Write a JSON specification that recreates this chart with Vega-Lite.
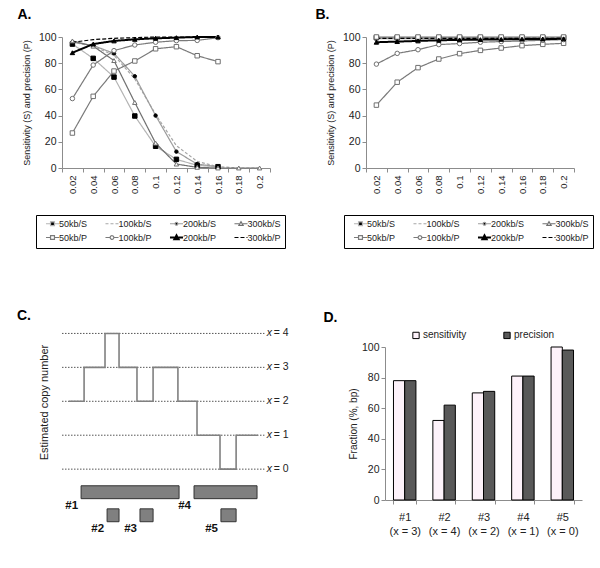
{
  "$schema": "https://vega.github.io/schema/vega-lite/v6.json",
  "background": "white",
  "padding": {"left": 17, "top": 8, "right": 0, "bottom": 0},
  "datasets": {
    "dA": [
      {"x": 0.02, "50kb/S": 94.6, "100kb/S": 96, "200kb/S": 96, "300kb/S": 97, "50kb/P": 26.7, "100kb/P": 53, "200kb/P": 88, "300kb/P": 96},
      {"x": 0.04, "50kb/S": 83.7, "100kb/S": 93, "200kb/S": 93.5, "300kb/S": 93, "50kb/P": 54.7, "100kb/P": 78.6, "200kb/P": 94.6, "300kb/P": 98},
      {"x": 0.06, "50kb/S": 69.4, "100kb/S": 86, "200kb/S": 87.5, "300kb/S": 82, "50kb/P": 74, "100kb/P": 89.6, "200kb/P": 97, "300kb/P": 99},
      {"x": 0.08, "50kb/S": 39.7, "100kb/S": 68, "200kb/S": 70, "300kb/S": 50, "50kb/P": 81.7, "100kb/P": 93.9, "200kb/P": 98.2, "300kb/P": 99.5},
      {"x": 0.1, "50kb/S": 16.6, "100kb/S": 41, "200kb/S": 40, "300kb/S": 19, "50kb/P": 91, "100kb/P": 96, "200kb/P": 99, "300kb/P": 100},
      {"x": 0.12, "50kb/S": 6.6, "100kb/S": 17, "200kb/S": 12.5, "300kb/S": 3, "50kb/P": 92.6, "100kb/P": 97.2, "200kb/P": 99.5, "300kb/P": 100},
      {"x": 0.14, "50kb/S": 2, "100kb/S": 5, "200kb/S": 3, "300kb/S": 0.5, "50kb/P": 85.7, "100kb/P": 97.4, "200kb/P": 100, "300kb/P": 100},
      {"x": 0.16, "50kb/S": 1, "100kb/S": 1, "200kb/S": 1, "300kb/S": 0, "50kb/P": 81.2, "100kb/P": 99.5, "200kb/P": 100, "300kb/P": 100},
      {"x": 0.18, "100kb/S": 0, "300kb/S": 0},
      {"x": 0.2, "100kb/S": 0, "300kb/S": 0}
    ],
    "dB": [
      {"x": 0.02, "50kb/S": 99.5, "100kb/S": 99.2, "200kb/S": 98.8, "300kb/S": 100, "50kb/P": 48, "100kb/P": 79.3, "200kb/P": 96, "300kb/P": 99},
      {"x": 0.04, "50kb/S": 99.5, "100kb/S": 99.2, "200kb/S": 98.8, "300kb/S": 100, "50kb/P": 65.5, "100kb/P": 87.5, "200kb/P": 96.5, "300kb/P": 99},
      {"x": 0.06, "50kb/S": 99.5, "100kb/S": 99.2, "200kb/S": 98.8, "300kb/S": 100, "50kb/P": 76.6, "100kb/P": 90.3, "200kb/P": 97, "300kb/P": 99},
      {"x": 0.08, "50kb/S": 99.5, "100kb/S": 99.2, "200kb/S": 98.8, "300kb/S": 100, "50kb/P": 83.2, "100kb/P": 94.2, "200kb/P": 97.5, "300kb/P": 99},
      {"x": 0.1, "50kb/S": 99.5, "100kb/S": 99.2, "200kb/S": 98.8, "300kb/S": 100, "50kb/P": 87.3, "100kb/P": 95, "200kb/P": 97.8, "300kb/P": 99},
      {"x": 0.12, "50kb/S": 99.5, "100kb/S": 99.2, "200kb/S": 98.8, "300kb/S": 100, "50kb/P": 89.8, "100kb/P": 96, "200kb/P": 98, "300kb/P": 99},
      {"x": 0.14, "50kb/S": 99.5, "100kb/S": 99.2, "200kb/S": 98.8, "300kb/S": 100, "50kb/P": 91.6, "100kb/P": 96.5, "200kb/P": 98.2, "300kb/P": 99},
      {"x": 0.16, "50kb/S": 99.5, "100kb/S": 99.2, "200kb/S": 98.8, "300kb/S": 100, "50kb/P": 93.4, "100kb/P": 97, "200kb/P": 98.4, "300kb/P": 99},
      {"x": 0.18, "50kb/S": 99.5, "100kb/S": 99.2, "200kb/S": 98.8, "300kb/S": 100, "50kb/P": 94.4, "100kb/P": 97.5, "200kb/P": 98.5, "300kb/P": 99},
      {"x": 0.2, "50kb/S": 99.5, "100kb/S": 99.2, "200kb/S": 98.8, "300kb/S": 100, "50kb/P": 95.2, "100kb/P": 98, "200kb/P": 98.6, "300kb/P": 99}
    ],
    "levels": [
      {"lv": 4, "lab": "= 4"},
      {"lv": 3, "lab": "= 3"},
      {"lv": 2, "lab": "= 2"},
      {"lv": 1, "lab": "= 1"},
      {"lv": 0, "lab": "= 0"}
    ],
    "steps": [
      {"pos": 3, "cn": 2},
      {"pos": 9.6, "cn": 3},
      {"pos": 18.7, "cn": 4},
      {"pos": 24.8, "cn": 3},
      {"pos": 32.6, "cn": 2},
      {"pos": 39.6, "cn": 3},
      {"pos": 50.4, "cn": 2},
      {"pos": 58.7, "cn": 1},
      {"pos": 68.7, "cn": 0},
      {"pos": 75.7, "cn": 1},
      {"pos": 85.2, "cn": 1}
    ],
    "segs": [
      {"id": "#1", "a": 8.3, "b": 50.9, "lo": -0.87, "hi": -0.49},
      {"id": "#4", "a": 57.4, "b": 84.8, "lo": -0.87, "hi": -0.49},
      {"id": "#2", "a": 19.6, "b": 24.8, "lo": -1.55, "hi": -1.17},
      {"id": "#3", "a": 33.9, "b": 39.6, "lo": -1.55, "hi": -1.17},
      {"id": "#5", "a": 69.1, "b": 75.7, "lo": -1.55, "hi": -1.17}
    ],
    "dD": [
      {"g": "#1|(x = 3)", "m": "sensitivity", "v": 78},
      {"g": "#1|(x = 3)", "m": "precision", "v": 78},
      {"g": "#2|(x = 4)", "m": "sensitivity", "v": 52},
      {"g": "#2|(x = 4)", "m": "precision", "v": 62},
      {"g": "#3|(x = 2)", "m": "sensitivity", "v": 70},
      {"g": "#3|(x = 2)", "m": "precision", "v": 71},
      {"g": "#4|(x = 1)", "m": "sensitivity", "v": 81},
      {"g": "#4|(x = 1)", "m": "precision", "v": 81},
      {"g": "#5|(x = 0)", "m": "sensitivity", "v": 100},
      {"g": "#5|(x = 0)", "m": "precision", "v": 98}
    ]
  },
  "spacing": 60,
  "resolve": {
    "scale": {"color": "independent", "fill": "independent", "stroke": "independent", "shape": "independent", "strokeDash": "independent", "size": "independent", "x": "independent", "y": "independent"},
    "legend": {"color": "independent", "fill": "independent", "stroke": "independent", "shape": "independent", "strokeDash": "independent", "size": "independent"}
  },
  "vconcat": [
    {
      "spacing": 29,
      "resolve": {
        "scale": {"color": "independent", "fill": "independent", "stroke": "independent", "shape": "independent", "strokeDash": "independent", "size": "independent", "x": "independent", "y": "independent"},
        "legend": {"color": "independent", "fill": "independent", "stroke": "independent", "shape": "independent", "strokeDash": "independent", "size": "independent"}
      },
      "hconcat": [
        {
          "title": {"text": "A.", "dx": -5},
          "width": 208,
          "height": 131,
          "data": {"name": "dA"},
          "transform": [
            {"fold": ["50kb/S", "100kb/S", "200kb/S", "300kb/S", "50kb/P", "100kb/P", "200kb/P", "300kb/P"], "as": ["series", "v"]},
            {"filter": "isValid(datum.v)"}
          ],
          "encoding": {
            "x": {"field": "x", "type": "ordinal", "scale": {"type": "band", "paddingInner": 0, "paddingOuter": 0},
                  "axis": {"title": null, "labelAngle": -90, "tickBand": "extent", "tickSize": 4, "labelPadding": 3, "labelFontSize": 9.5}},
            "y": {"field": "v", "type": "quantitative", "scale": {"domain": [0, 100], "nice": false},
                  "axis": {"title": "Sensitivity (S)  and precision (P)", "values": [0, 20, 40, 60, 80, 100], "tickSize": 4, "labelPadding": 2, "titlePadding": 7}}
          },
          "resolve": {"legend": {"shape": "independent", "fill": "independent", "stroke": "independent"}},
          "layer": [
            {
              "mark": {"type": "line"},
              "encoding": {
                "color": {"field": "series", "type": "nominal",
                  "scale": {"domain": ["50kb/S", "100kb/S", "200kb/S", "300kb/S", "50kb/P", "100kb/P", "200kb/P", "300kb/P"],
                            "range": ["#b4b4b4", "#a6a6a6", "#9c9c9c", "#707070", "#7a7a7a", "#7a7a7a", "#000000", "#000000"]},
                  "legend": {"title": null, "orient": "none", "legendX": -26, "legendY": 178, "direction": "horizontal", "columns": 4,
                    "symbolType": "stroke", "symbolSize": 170, "labelFontSize": 9, "labelColor": "#222", "strokeColor": "black",
                    "padding": 4, "symbolOffset": 8, "rowPadding": 2, "columnPadding": 11.5, "labelOffset": 2, "fillColor": "white",
                    "encode": {"symbols": {"update": {
                      "shape": {"signal": "datum.value==='50kb/S'||datum.value==='50kb/P' ? 'M-1,0H-0.3M0.3,0H1M-0.3,-0.3H0.3V0.3H-0.3Z' : datum.value==='200kb/S' ? 'M-1,0H-0.22M0.22,0H1M-0.22,0A0.22,0.22 0 1,0 0.22,0A0.22,0.22 0 1,0 -0.22,0Z' : datum.value==='100kb/P' ? 'M-1,0H-0.28M0.28,0H1M-0.28,0A0.28,0.28 0 1,0 0.28,0A0.28,0.28 0 1,0 -0.28,0Z' : (datum.value==='300kb/S'||datum.value==='200kb/P') ? 'M-1,0H-0.3M0.3,0H1M0,-0.32L0.32,0.25H-0.32Z' : 'M-1,0H1'"},
                      "fill": {"signal": "(datum.value==='50kb/S'||datum.value==='200kb/S'||datum.value==='200kb/P') ? 'black' : 'white'"},
                      "strokeWidth": {"signal": "datum.value==='200kb/P' ? 2 : 1.2"}
                    }}}}
                },
                "strokeDash": {"field": "series", "type": "nominal",
                  "scale": {"domain": ["50kb/S", "100kb/S", "200kb/S", "300kb/S", "50kb/P", "100kb/P", "200kb/P", "300kb/P"],
                            "range": [[1, 0], [3, 2], [1, 0], [1, 0], [1, 0], [1, 0], [1, 0], [4, 2]]}},
                "strokeWidth": {"condition": {"test": "datum.series==='200kb/P'", "value": 2}, "value": 1.2}
              }
            },
            {
              "transform": [{"filter": "datum.series!=='100kb/S' && datum.series!=='300kb/P'"}],
              "mark": {"type": "point", "opacity": 1, "strokeWidth": 1},
              "encoding": {
                "shape": {"field": "series", "type": "nominal", "legend": null,
                  "scale": {"domain": ["50kb/S", "100kb/S", "200kb/S", "300kb/S", "50kb/P", "100kb/P", "200kb/P", "300kb/P"],
                            "range": ["square", "circle", "circle", "triangle-up", "square", "circle", "triangle-up", "circle"]}},
                "fill": {"field": "series", "type": "nominal", "legend": null,
                  "scale": {"domain": ["50kb/S", "100kb/S", "200kb/S", "300kb/S", "50kb/P", "100kb/P", "200kb/P", "300kb/P"],
                            "range": ["black", "white", "black", "white", "white", "white", "black", "white"]}},
                "stroke": {"field": "series", "type": "nominal", "legend": null,
                  "scale": {"domain": ["50kb/S", "100kb/S", "200kb/S", "300kb/S", "50kb/P", "100kb/P", "200kb/P", "300kb/P"],
                            "range": ["black", "#707070", "black", "#707070", "#707070", "#707070", "black", "black"]}},
                "size": {"condition": {"test": "datum.series==='200kb/S'", "value": 12}, "value": 20}
              }
            }
          ]
        },
        {
          "title": {"text": "B.", "dx": -11},
          "width": 208,
          "height": 131,
          "data": {"name": "dB"},
          "transform": [
            {"fold": ["50kb/S", "100kb/S", "200kb/S", "300kb/S", "50kb/P", "100kb/P", "200kb/P", "300kb/P"], "as": ["series", "v"]},
            {"filter": "isValid(datum.v)"}
          ],
          "encoding": {
            "x": {"field": "x", "type": "ordinal", "scale": {"type": "band", "paddingInner": 0, "paddingOuter": 0},
                  "axis": {"title": null, "labelAngle": -90, "tickBand": "extent", "tickSize": 4, "labelPadding": 3, "labelFontSize": 9.5}},
            "y": {"field": "v", "type": "quantitative", "scale": {"domain": [0, 100], "nice": false},
                  "axis": {"title": "Sensitivity (S) and precision (P)", "values": [0, 20, 40, 60, 80, 100], "tickSize": 4, "labelPadding": 2, "titlePadding": 7}}
          },
          "resolve": {"legend": {"shape": "independent", "fill": "independent", "stroke": "independent"}},
          "layer": [
            {
              "mark": {"type": "line"},
              "encoding": {
                "color": {"field": "series", "type": "nominal",
                  "scale": {"domain": ["50kb/S", "100kb/S", "200kb/S", "300kb/S", "50kb/P", "100kb/P", "200kb/P", "300kb/P"],
                            "range": ["#b4b4b4", "#a6a6a6", "#9c9c9c", "#707070", "#7a7a7a", "#7a7a7a", "#000000", "#000000"]},
                  "legend": {"title": null, "orient": "none", "legendX": -22, "legendY": 178, "direction": "horizontal", "columns": 4,
                    "symbolType": "stroke", "symbolSize": 170, "labelFontSize": 9, "labelColor": "#222", "strokeColor": "black",
                    "padding": 4, "symbolOffset": 8, "rowPadding": 2, "columnPadding": 11.5, "labelOffset": 2, "fillColor": "white",
                    "encode": {"symbols": {"update": {
                      "shape": {"signal": "datum.value==='50kb/S'||datum.value==='50kb/P' ? 'M-1,0H-0.3M0.3,0H1M-0.3,-0.3H0.3V0.3H-0.3Z' : datum.value==='200kb/S' ? 'M-1,0H-0.22M0.22,0H1M-0.22,0A0.22,0.22 0 1,0 0.22,0A0.22,0.22 0 1,0 -0.22,0Z' : datum.value==='100kb/P' ? 'M-1,0H-0.28M0.28,0H1M-0.28,0A0.28,0.28 0 1,0 0.28,0A0.28,0.28 0 1,0 -0.28,0Z' : (datum.value==='300kb/S'||datum.value==='200kb/P') ? 'M-1,0H-0.3M0.3,0H1M0,-0.32L0.32,0.25H-0.32Z' : 'M-1,0H1'"},
                      "fill": {"signal": "(datum.value==='50kb/S'||datum.value==='200kb/S'||datum.value==='200kb/P') ? 'black' : 'white'"},
                      "strokeWidth": {"signal": "datum.value==='200kb/P' ? 2 : 1.2"}
                    }}}}
                },
                "strokeDash": {"field": "series", "type": "nominal",
                  "scale": {"domain": ["50kb/S", "100kb/S", "200kb/S", "300kb/S", "50kb/P", "100kb/P", "200kb/P", "300kb/P"],
                            "range": [[1, 0], [3, 2], [1, 0], [1, 0], [1, 0], [1, 0], [1, 0], [4, 2]]}},
                "strokeWidth": {"condition": {"test": "datum.series==='200kb/P'", "value": 2}, "value": 1.2}
              }
            },
            {
              "transform": [{"filter": "datum.series!=='100kb/S' && datum.series!=='300kb/P'"}],
              "mark": {"type": "point", "opacity": 1, "strokeWidth": 1},
              "encoding": {
                "shape": {"field": "series", "type": "nominal", "legend": null,
                  "scale": {"domain": ["50kb/S", "100kb/S", "200kb/S", "300kb/S", "50kb/P", "100kb/P", "200kb/P", "300kb/P"],
                            "range": ["square", "circle", "circle", "square", "square", "circle", "triangle-up", "circle"]}},
                "fill": {"field": "series", "type": "nominal", "legend": null,
                  "scale": {"domain": ["50kb/S", "100kb/S", "200kb/S", "300kb/S", "50kb/P", "100kb/P", "200kb/P", "300kb/P"],
                            "range": ["black", "white", "black", "white", "white", "white", "black", "white"]}},
                "stroke": {"field": "series", "type": "nominal", "legend": null,
                  "scale": {"domain": ["50kb/S", "100kb/S", "200kb/S", "300kb/S", "50kb/P", "100kb/P", "200kb/P", "300kb/P"],
                            "range": ["black", "#707070", "black", "#707070", "#707070", "#707070", "black", "black"]}},
                "size": {"condition": {"test": "datum.series==='200kb/S'", "value": 12}, "value": 20}
              }
            }
          ]
        }
      ]
    },
    {
      "spacing": 31,
      "resolve": {
        "scale": {"color": "independent", "fill": "independent", "stroke": "independent", "shape": "independent", "x": "independent", "y": "independent"},
        "legend": {"color": "independent", "fill": "independent", "stroke": "independent", "shape": "independent"}
      },
      "hconcat": [
        {
          "title": {"text": "C.", "dx": -21, "offset": 5},
          "width": 230,
          "height": 190,
          "layer": [
            {
              "data": {"name": "levels"},
              "mark": {"type": "rule", "strokeDash": [1.5, 1.5], "color": "#555555", "strokeWidth": 1},
              "encoding": {
                "x": {"datum": 0, "type": "quantitative", "scale": {"domain": [0, 100], "nice": false}, "axis": null},
                "x2": {"datum": 88},
                "y": {"field": "lv", "type": "quantitative", "scale": {"domain": [-2, 3.6], "nice": false},
                      "axis": {"title": "Estimated copy number", "labels": false, "ticks": false, "domain": false, "titlePadding": 13, "titleFontSize": 11, "titleY": 55}}
              }
            },
            {
              "data": {"name": "levels"},
              "mark": {"type": "text", "fontStyle": "italic", "align": "left", "baseline": "middle", "fontSize": 10.5, "color": "#222"},
              "encoding": {
                "x": {"datum": 89, "type": "quantitative"},
                "y": {"field": "lv", "type": "quantitative"},
                "text": {"value": "x"}
              }
            },
            {
              "data": {"name": "levels"},
              "mark": {"type": "text", "align": "left", "baseline": "middle", "fontSize": 10.5, "dx": 7, "color": "#222"},
              "encoding": {
                "x": {"datum": 89, "type": "quantitative"},
                "y": {"field": "lv", "type": "quantitative"},
                "text": {"field": "lab"}
              }
            },
            {
              "data": {"name": "steps"},
              "mark": {"type": "line", "interpolate": "step-after", "color": "#808080", "strokeWidth": 1.6},
              "encoding": {
                "x": {"field": "pos", "type": "quantitative"},
                "y": {"field": "cn", "type": "quantitative"}
              }
            },
            {
              "data": {"name": "segs"},
              "mark": {"type": "rect", "fill": "#808080", "stroke": "#333333", "strokeWidth": 1},
              "encoding": {
                "x": {"field": "a", "type": "quantitative"},
                "x2": {"field": "b"},
                "y": {"field": "lo", "type": "quantitative"},
                "y2": {"field": "hi"}
              }
            },
            {
              "data": {"name": "segs"},
              "mark": {"type": "text", "align": "right", "baseline": "top", "fontWeight": "bold", "fontSize": 11.5, "dx": -3, "dy": 1, "color": "#111"},
              "encoding": {
                "x": {"field": "a", "type": "quantitative"},
                "y": {"field": "lo", "type": "quantitative"},
                "text": {"field": "id"}
              }
            }
          ]
        },
        {
          "title": {"text": "D.", "dx": -25, "offset": 5},
          "width": 197,
          "height": 153,
          "data": {"name": "dD"},
          "mark": {"type": "bar", "stroke": "black", "strokeWidth": 1},
          "encoding": {
            "x": {"field": "g", "type": "nominal", "sort": null, "scale": {"paddingInner": 0.43, "paddingOuter": 0.215},
                  "axis": {"title": null, "labelAngle": 0, "tickBand": "extent", "tickSize": 4, "labelPadding": 7, "labelFontSize": 11, "labelLineHeight": 14, "labelExpr": "isValid(datum.value) ? split(datum.value, '|') : ''"}},
            "xOffset": {"field": "m", "type": "nominal", "scale": {"domain": ["sensitivity", "precision"], "paddingInner": 0}},
            "y": {"field": "v", "type": "quantitative", "scale": {"domain": [0, 100], "nice": false},
                  "axis": {"title": "Fraction (%, bp)", "values": [0, 20, 40, 60, 80, 100], "tickSize": 4, "labelPadding": 2, "titlePadding": 3, "titleFontSize": 10}},
            "fill": {"field": "m", "type": "nominal",
              "scale": {"domain": ["sensitivity", "precision"], "range": ["#fdf2fa", "#595959"]},
              "legend": {"title": null, "orient": "none", "legendX": 26, "legendY": -17, "direction": "horizontal",
                "symbolType": "square", "symbolSize": 40, "symbolStrokeColor": "black", "symbolStrokeWidth": 1,
                "labelFontSize": 10, "labelColor": "#222", "columnPadding": 34, "labelOffset": 2}}
          }
        }
      ]
    }
  ],
  "config": {
    "view": {"stroke": null},
    "font": "Liberation Sans",
    "title": {"fontSize": 14, "fontWeight": "bold", "anchor": "start", "color": "black", "offset": 10, "font": "Liberation Sans"},
    "axis": {"domainColor": "#8c8c8c", "tickColor": "#8c8c8c", "labelColor": "#222", "labelFontSize": 10.5, "titleFontWeight": "normal",
             "titleColor": "#222", "titleFontSize": 9, "grid": false, "labelFont": "Liberation Sans", "titleFont": "Liberation Sans"},
    "legend": {"labelFont": "Liberation Sans"}
  }
}
